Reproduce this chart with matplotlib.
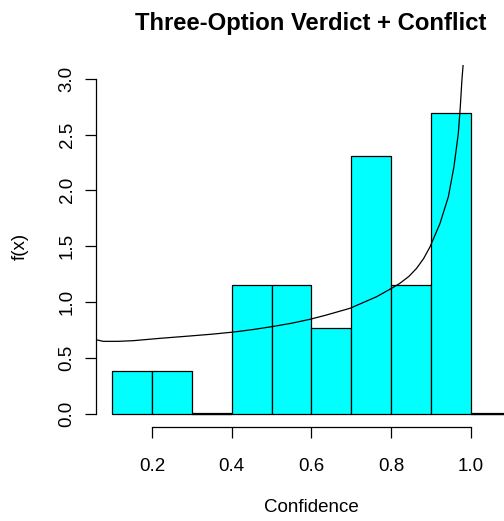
import matplotlib
matplotlib.use("Agg")
import matplotlib.pyplot as plt
import numpy as np

plt.rcParams["font.family"] = ["Liberation Sans", "DejaVu Sans"]

# histogram: bins of width 0.1 from 0.1 to 1.1, counts per bin
bin_edges = [0.1, 0.2, 0.3, 0.4, 0.5, 0.6, 0.7, 0.8, 0.9, 1.0, 1.1]
counts = [1, 1, 0, 3, 3, 2, 6, 3, 7, 0]

# density curve
curve_x = [0.06, 0.077, 0.115, 0.153, 0.220, 0.295, 0.350, 0.404, 0.450, 0.500,
           0.550, 0.596, 0.638, 0.697, 0.764, 0.800, 0.822, 0.845, 0.864, 0.882,
           0.898, 0.923, 0.944, 0.958, 0.969, 0.974, 0.978, 0.981, 0.985]
curve_y = [0.662, 0.648, 0.648, 0.654, 0.675, 0.696, 0.712, 0.731, 0.752, 0.779,
           0.810, 0.845, 0.884, 0.944, 1.048, 1.12, 1.167, 1.230, 1.301, 1.390,
           1.495, 1.704, 1.943, 2.211, 2.510, 2.749, 2.987, 3.122, 3.40]

x_ticks = [0.2, 0.4, 0.6, 0.8, 1.0]
y_ticks = [0.0, 0.5, 1.0, 1.5, 2.0, 2.5, 3.0]

W, H = 504, 521
fig = plt.figure(figsize=(W / 100, H / 100), dpi=100)
ax = fig.add_axes([96.4 / W, 1 - 427.1 / H, 430.0 / W, 361.8 / H])

edges = np.array(bin_edges)
dens = np.array(counts) / (sum(counts) * np.diff(edges))
ax.bar(edges[:-1], dens, width=np.diff(edges), align="edge",
       color="#00FFFF", edgecolor="black", linewidth=0.9)
# empty bins show up as a flat line on the baseline
for lo, hi, d in zip(edges[:-1], edges[1:], dens):
    if d == 0:
        ax.plot([lo, hi], [0, 0], color="black", linewidth=1.6, solid_capstyle="butt")
ax.plot(curve_x, curve_y, color="black", linewidth=0.9)

ax.set_xlim(0.06, 1.14)
ax.set_ylim(-0.12, 3.12)

for s in ["top", "right"]:
    ax.spines[s].set_visible(False)
ax.spines["left"].set_bounds(0, 3)
ax.spines["bottom"].set_bounds(0.2, 1.0)
ax.spines["left"].set_linewidth(0.9)
ax.spines["bottom"].set_linewidth(0.9)

ax.set_xticks(x_ticks)
ax.set_xticklabels(["%.1f" % t for t in x_ticks])
ax.set_yticks(y_ticks)
ax.set_yticklabels(["%.1f" % t for t in y_ticks], rotation=90, va="center")
ax.tick_params(direction="out", length=8, width=0.9, labelsize=13.5)
ax.tick_params(axis="x", pad=14)
ax.tick_params(axis="y", pad=7)

fig.text(311.4 / W, 1 - 508 / H, "Confidence", ha="center", va="center", fontsize=13.5)
fig.text(20 / W, 1 - 246 / H, "f(x)", ha="center", va="center", fontsize=13.5, rotation=90)
fig.text(311 / W, 1 - 30 / H, "Three-Option Verdict + Conflict", ha="center", va="baseline",
         fontsize=17.2, fontweight="bold")

fig.savefig("out.png", dpi=100)
